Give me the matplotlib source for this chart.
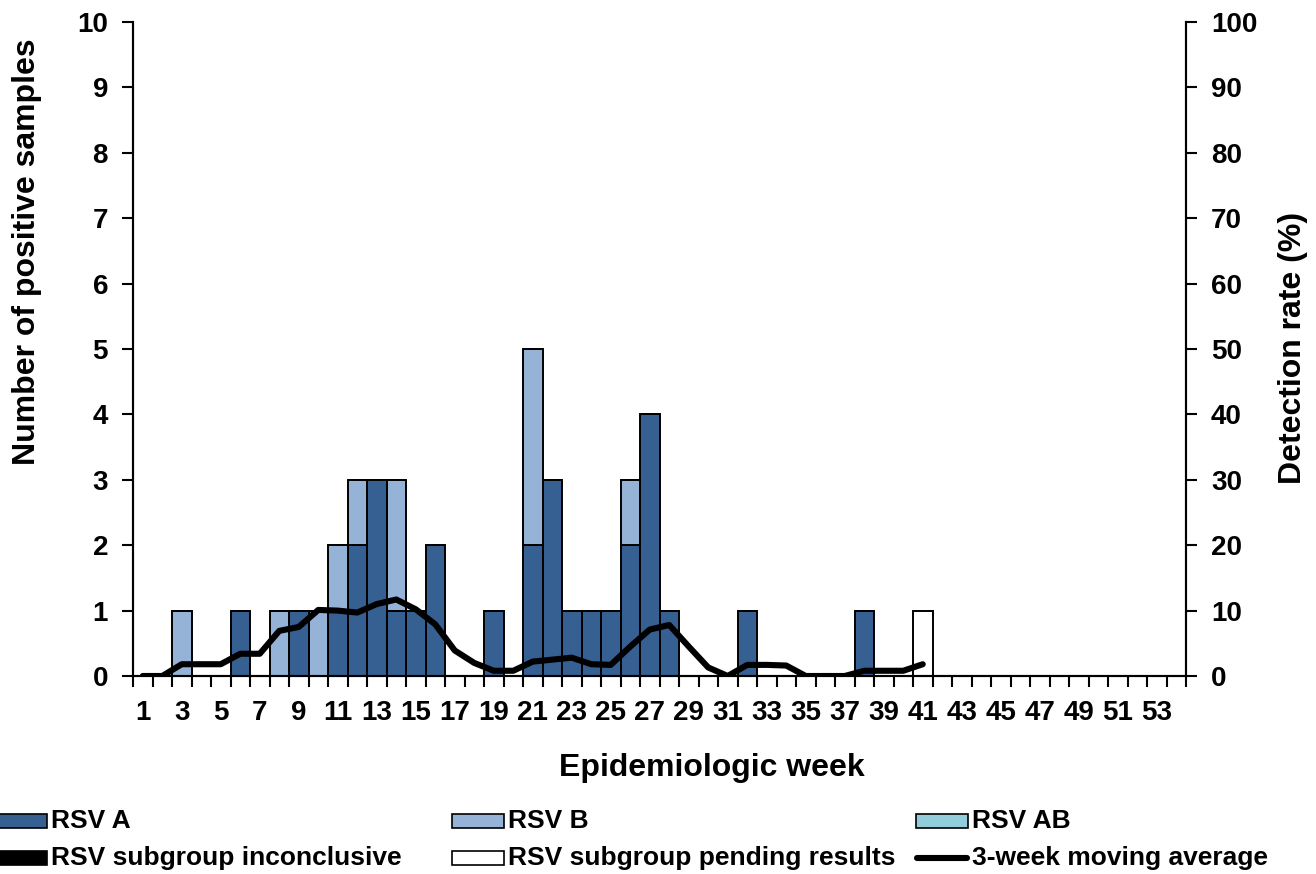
import matplotlib
matplotlib.use("Agg")
import matplotlib.pyplot as plt
from matplotlib.patches import Rectangle
from matplotlib.lines import Line2D
import numpy as np

plt.rcParams['font.family'] = ['Liberation Sans', 'DejaVu Sans']
plt.rcParams['font.weight'] = 'bold'

weeks = list(range(1, 55))
rsv_a = [0, 0, 0, 0, 0, 1, 0, 0, 1, 0,
         1, 2, 3, 1, 1, 2, 0, 0, 1, 0,
         2, 3, 1, 1, 1, 2, 4, 1, 0, 0,
         0, 1, 0, 0, 0, 0, 0, 1, 0, 0,
         0, 0, 0, 0, 0, 0, 0, 0, 0, 0,
         0, 0, 0, 0]
rsv_b = [0, 0, 1, 0, 0, 0, 0, 1, 0, 1,
         1, 1, 0, 2, 0, 0, 0, 0, 0, 0,
         3, 0, 0, 0, 0, 1, 0, 0, 0, 0,
         0, 0, 0, 0, 0, 0, 0, 0, 0, 0,
         0, 0, 0, 0, 0, 0, 0, 0, 0, 0,
         0, 0, 0, 0]
rsv_ab = [0] * 54
rsv_inconclusive = [0] * 54
rsv_pending = [0] * 40 + [1] + [0] * 13
moving_avg = [0, 0, 1.8, 1.8, 1.8, 3.4, 3.4, 6.9, 7.5, 10.1,
              10.0, 9.7, 11.0, 11.7, 10.2, 7.9, 3.9, 2.0, 0.8, 0.8,
              2.2, 2.5, 2.8, 1.8, 1.7, 4.5, 7.1, 7.8, 4.5, 1.3,
              0, 1.7, 1.7, 1.6, 0, 0, 0, 0.8, 0.8, 0.8,
              1.8]
ma_weeks = weeks[:len(moving_avg)]
xtick_labels = [str(w) for w in range(1, 54, 2)]

series = [
    ("RSV A", rsv_a, "#376092"),
    ("RSV B", rsv_b, "#95B3D7"),
    ("RSV AB", rsv_ab, "#92CDDC"),
    ("RSV subgroup inconclusive", rsv_inconclusive, "#000000"),
    ("RSV subgroup pending results", rsv_pending, "#FFFFFF"),
]

W, H = 1316, 874
fig = plt.figure(figsize=(W / 100, H / 100), dpi=100)
ax = fig.add_axes([133 / W, 1 - 676 / H, 1053 / W, 654 / H])
ax2 = ax.twinx()

bottom = np.zeros(len(weeks))
for name, vals, col in series:
    v = np.array(vals, dtype=float)
    ax.bar(weeks, v, width=1.0, bottom=bottom, color=col, edgecolor='black',
           linewidth=1.4, zorder=2)
    bottom += v

ax2.plot(ma_weeks, moving_avg, color='black', linewidth=4.4,
         solid_capstyle='round', solid_joinstyle='round', zorder=5)

ax.set_xlim(0.5, 54.5)
ax.set_ylim(0, 10)
ax2.set_ylim(0, 100)

ax.set_yticks(range(0, 11))
ax2.set_yticks(range(0, 101, 10))
ax.set_xticks(range(1, 54, 2))
ax.set_xticklabels(xtick_labels)
ax.set_xticks(np.arange(0.5, 55, 1.0), minor=True)
ax.tick_params(axis='x', which='major', length=0, pad=17, labelsize=20)
ax.tick_params(axis='x', which='minor', length=8, width=1.5, direction='out')
ax.tick_params(axis='y', length=8, width=1.5, direction='out', pad=10, labelsize=20)
ax2.tick_params(axis='y', length=8, width=1.5, direction='out', pad=10, labelsize=20)
for a in (ax, ax2):
    for lab in a.get_xticklabels() + a.get_yticklabels():
        lab.set_fontweight('bold')
    a.spines['top'].set_visible(False)
    for s in ('left', 'right', 'bottom'):
        a.spines[s].set_linewidth(1.5)

def fx(x):
    return x / W

def fy(y):
    return 1 - y / H

fig.text(fx(27), fy(252), "Number of positive samples", rotation=90,
         ha='center', va='center', fontsize=23, fontweight='bold')
fig.text(fx(1293), fy(348), "Detection rate (%)", rotation=90,
         ha='center', va='center', fontsize=23, fontweight='bold')
fig.text(fx(712), fy(768), "Epidemiologic week", ha='center', va='center',
         fontsize=23, fontweight='bold')

# legend
col_x = [-5, 452, 916]
row_y = [821, 858]
positions = [(0, 0), (1, 0), (2, 0), (0, 1), (1, 1)]
for (name, vals, col), (c, r) in zip(series, positions):
    x0 = col_x[c]
    y0 = row_y[r]
    fig.add_artist(Rectangle((fx(x0), fy(y0 + 7)), 52 / W, 14 / H,
                             transform=fig.transFigure, facecolor=col,
                             edgecolor='black', linewidth=1.2))
    fig.text(fx(x0 + 56), fy(y0), name, ha='left', va='center',
             fontsize=19, fontweight='bold')
x0 = col_x[2]
fig.add_artist(Line2D([fx(x0 + 1), fx(x0 + 51)], [fy(row_y[1]), fy(row_y[1])],
                      transform=fig.transFigure, color='black', linewidth=4.4,
                      solid_capstyle='round'))
fig.text(fx(x0 + 56), fy(row_y[1]), "3-week moving average", ha='left',
         va='center', fontsize=19, fontweight='bold')

fig.savefig("out.png", dpi=100)
